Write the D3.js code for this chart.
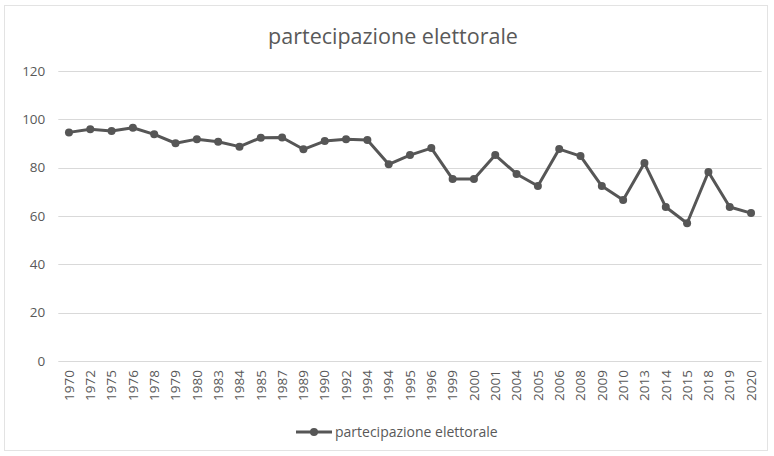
<!DOCTYPE html>
<html>
<head>
<meta charset="utf-8">
<script src="https://cdn.jsdelivr.net/npm/d3@7"></script>
<style>
  html, body { margin: 0; padding: 0; background: #ffffff; }
  svg { display: block; font-family: "Open Sans", "Liberation Sans", sans-serif; }
</style>
</head>
<body>
<svg id="chart" width="774" height="456"></svg>
<script>
// Election years (as labelled on the category axis)
const years = [
  "1970", "1972", "1975", "1976", "1978", "1979", "1980", "1983", "1984", "1985",
  "1987", "1989", "1990", "1992", "1994", "1994", "1995", "1996", "1999", "2000",
  "2001", "2004", "2005", "2006", "2008", "2009", "2010", "2013", "2014", "2015",
  "2018", "2019", "2020"
];

// Turnout, percent
const turnout = [
  94.6, 95.9, 95.2, 96.5, 93.8, 90.1, 91.8, 90.7, 88.7, 92.4,
  92.5, 87.6, 91.0, 91.8, 91.4, 81.4, 85.2, 88.1, 75.3, 75.3,
  85.2, 77.4, 72.4, 87.7, 84.8, 72.4, 66.6, 81.9, 63.7, 57.0,
  78.2, 63.7, 61.2
];

const yTicks = [0, 20, 40, 60, 80, 100, 120];
const seriesName = "partecipazione elettorale";
const chartTitle = "partecipazione elettorale";

const W = 774, H = 456;
const plot = { left: 58.3, right: 761.7, top: 71, bottom: 361 };
const lineColor = "#565656";
const textColor = "#595959";
const labelFont = "13.5px";

const svg = d3.select("#chart");

// outer chart frame
svg.append("rect")
  .attr("x", 4.5).attr("y", 5.5)
  .attr("width", 763).attr("height", 445)
  .attr("fill", "#ffffff")
  .attr("stroke", "#e3e3e3")
  .attr("stroke-width", 1);

const data = years.map((y, i) => ({ key: i, year: y, value: turnout[i] }));

const x = d3.scaleBand()
  .domain(data.map(d => d.key))
  .range([plot.left, plot.right])
  .padding(0);

const y = d3.scaleLinear()
  .domain([0, 120])
  .range([plot.bottom, plot.top]);

// horizontal gridlines
svg.append("g")
  .selectAll("line")
  .data(yTicks)
  .join("line")
  .attr("x1", plot.left).attr("x2", plot.right)
  .attr("y1", d => Math.round(y(d)) + 0.5)
  .attr("y2", d => Math.round(y(d)) + 0.5)
  .attr("stroke", "#d9d9d9")
  .attr("stroke-width", 1);

// value axis labels
const yAxis = d3.axisLeft(y).tickValues(yTicks).tickSize(0).tickPadding(0);
svg.append("g")
  .attr("transform", `translate(${plot.left - 13},0)`)
  .call(yAxis)
  .call(g => g.select(".domain").remove())
  .call(g => g.selectAll("text")
    .attr("fill", textColor)
    .style("font-size", labelFont)
    .style("font-family", "'Open Sans', 'Liberation Sans', sans-serif"));

// category axis labels, rotated
const xAxis = d3.axisBottom(x).tickFormat(i => years[i]).tickSize(0).tickPadding(0);
svg.append("g")
  .attr("transform", `translate(0,${plot.bottom})`)
  .call(xAxis)
  .call(g => g.select(".domain").remove())
  .call(g => g.selectAll("text")
    .attr("fill", textColor)
    .style("font-size", labelFont)
    .style("font-family", "'Open Sans', 'Liberation Sans', sans-serif")
    .attr("text-anchor", "end")
    .attr("dy", "0.35em")
    .attr("transform", "translate(0,9) rotate(-90)")
    .attr("x", 0).attr("y", 0));

// series line
const line = d3.line()
  .x(d => x(d.key) + x.bandwidth() / 2)
  .y(d => y(d.value));

svg.append("path")
  .datum(data)
  .attr("fill", "none")
  .attr("stroke", lineColor)
  .attr("stroke-width", 3)
  .attr("stroke-linejoin", "round")
  .attr("d", line);

svg.append("g")
  .selectAll("circle")
  .data(data)
  .join("circle")
  .attr("cx", d => x(d.key) + x.bandwidth() / 2)
  .attr("cy", d => y(d.value))
  .attr("r", 4)
  .attr("fill", lineColor);

// title
svg.append("text")
  .attr("x", 393).attr("y", 44)
  .attr("text-anchor", "middle")
  .attr("fill", textColor)
  .style("font-size", "21.5px")
  .text(chartTitle);

// legend
const lg = svg.append("g").attr("transform", "translate(296,432)");
lg.append("line")
  .attr("x1", 0).attr("x2", 36).attr("y1", 0).attr("y2", 0)
  .attr("stroke", lineColor).attr("stroke-width", 3);
lg.append("circle").attr("cx", 18).attr("cy", 0).attr("r", 4).attr("fill", lineColor);
lg.append("text")
  .attr("x", 39).attr("y", 0).attr("dy", "0.35em")
  .attr("fill", textColor)
  .style("font-size", "14px")
  .text(seriesName);
</script>
</body>
</html>
